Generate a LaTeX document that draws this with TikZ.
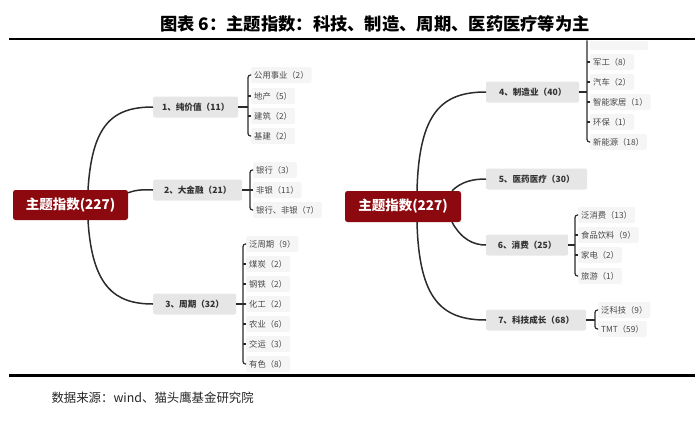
\documentclass[tikz,border=0pt]{standalone}
\usepackage{fontspec}
\setmainfont{Noto Sans CJK SC}
\usetikzlibrary{calc}
\definecolor{rootred}{HTML}{8C0A0F}
\definecolor{midgray}{HTML}{E6E6E6}
\definecolor{midtext}{HTML}{333333}
\definecolor{leafgray}{HTML}{F5F5F5}
\definecolor{leaftext}{HTML}{484848}
\definecolor{linecol}{HTML}{2B2B2B}
\begin{document}
\begin{tikzpicture}[x=1pt,y=-1pt,
  rootbox/.style={fill=rootred, text=white, font=\fontsize{13.5}{15}\selectfont\bfseries, rounded corners=2.5pt, minimum width=115pt, minimum height=30pt, inner sep=0pt},
  midbox/.style={fill=midgray, text=midtext, font=\fontsize{8.6}{10}\selectfont\bfseries, rounded corners=2pt, minimum height=21pt, inner xsep=7pt, inner ysep=0pt, anchor=west},
  leafbox/.style={fill=leafgray, text=leaftext, font=\fontsize{8.3}{9}\selectfont, rounded corners=2pt, minimum height=16pt, inner xsep=3pt, inner ysep=0pt, anchor=west},
  link/.style={draw=linecol, line width=1.5pt},
  brk/.style={draw=linecol, line width=1.2pt, rounded corners=2.5pt},
  rulestyle/.style={draw=black, line width=2.5pt}]
\useasboundingbox (0,0) rectangle (700,420);
% title and source
\node[font=\fontsize{17.3}{19}\selectfont\bfseries] (title) at (375,24) {图表 6：主题指数：科技、制造、周期、医药医疗等为主};
\node[anchor=west, font=\fontsize{12.4}{14}\selectfont, text=black!85] (src) at (48,398) {数据来源：wind、猫头鹰基金研究院};

% ---------- left tree ----------
\node[rootbox] (r1) at (70.5,205) {主题指数(227)};
\node[midbox, minimum width=85pt] (n1) at (153,107) {1、纯价值（11）};
\node[midbox, minimum width=89pt] (n2) at (153,190) {2、大金融（21）};
\node[midbox, minimum width=83pt] (n3) at (153,304) {3、周期（32）};

\node[leafbox] (n1a) at (251,75) {公用事业（2）};
\node[leafbox] (n1b) at (251,96) {地产（5）};
\node[leafbox] (n1c) at (251,116) {建筑（2）};
\node[leafbox] (n1d) at (251,136) {基建（2）};

\node[leafbox] (n2a) at (253,170) {银行（3）};
\node[leafbox] (n2b) at (253,190) {非银（11）};
\node[leafbox] (n2c) at (253,210) {银行、非银（7）};

\node[leafbox] (n3a) at (246,244) {泛周期（9）};
\node[leafbox] (n3b) at (246,264) {煤炭（2）};
\node[leafbox] (n3c) at (246,284) {钢铁（2）};
\node[leafbox] (n3d) at (246,304) {化工（2）};
\node[leafbox] (n3e) at (246,324) {农业（6）};
\node[leafbox] (n3f) at (246,344) {交运（3）};
\node[leafbox] (n3g) at (246,364) {有色（8）};

\draw[link] ($(r1.north)+(17.5,0)$) .. controls (92,125) and (112,107) .. (n1.west);
\draw[link] ($(r1.north east)+(0,3)$) .. controls (138,189) and (145,190) .. (n2.west);
\draw[link] ($(r1.south)+(17.5,0)$) .. controls (92,287) and (115,304) .. (n3.west);

% brackets left
\draw[brk] (n1a.west) -| (248,107) |- (n1d.west);
\draw[brk] (248,96) -- (n1b.west);
\draw[brk] (248,116) -- (n1c.west);
\draw[brk] (n1.east) -- (248,107);

\draw[brk] (n2a.west) -| (250,190) |- (n2c.west);
\draw[brk] (n2.east) -- (n2b.west);

\draw[brk] (n3a.west) -| (243,304) |- (n3g.west);
\draw[brk] (243,264) -- (n3b.west);
\draw[brk] (243,284) -- (n3c.west);
\draw[brk] (243,324) -- (n3e.west);
\draw[brk] (243,344) -- (n3f.west);
\draw[brk] (n3.east) -- (n3d.west);

% ---------- right tree ----------
\node[rootbox, minimum width=116pt, minimum height=31pt] (r2) at (403,206.5) {主题指数(227)};
\node[midbox, minimum width=93pt] (n4) at (486,92) {4、制造业（40）};
\node[midbox, minimum width=101pt] (n5) at (486,179) {5、医药医疗（30）};
\node[midbox, minimum width=82pt] (n6) at (486,245) {6、消费（25）};
\node[midbox, minimum width=100pt] (n7) at (486,320) {7、科技成长（68）};

\begin{scope}
\clip (560,41.5) rectangle (700,60);
\node[leafbox, minimum width=58pt] (n4a) at (590,42) {};
\end{scope}
\node[leafbox] (n4b) at (590,62) {军工（8）};
\node[leafbox] (n4c) at (590,82) {汽车（2）};
\node[leafbox] (n4d) at (590,102) {智能家居（1）};
\node[leafbox] (n4e) at (590,122) {环保（1）};
\node[leafbox] (n4f) at (590,142) {新能源（18）};

\node[leafbox] (n6a) at (578,215) {泛消费（13）};
\node[leafbox] (n6b) at (578,235) {食品饮料（9）};
\node[leafbox] (n6c) at (578,255) {家电（2）};
\node[leafbox] (n6d) at (578,276) {旅游（1）};

\node[leafbox] (n7a) at (598,310) {泛科技（9）};
\node[leafbox] (n7b) at (598,329) {TMT（59）};

\draw[link] ($(r2.north)+(14,0)$) .. controls (419,112) and (442,92) .. (n4.west);
\draw[link] ($(r2.north)+(49,0)$) .. controls (462,181) and (474,179) .. (n5.west);
\draw[link] ($(r2.south)+(49,0)$) .. controls (462,240) and (474,245) .. (n6.west);
\draw[link] ($(r2.south)+(14,0)$) .. controls (419,300) and (442,320) .. (n7.west);

% brackets right
\draw[brk] (587,40.5) -- (587,92) |- (n4f.west);
\draw[brk] (587,62) -- (n4b.west);
\draw[brk] (587,82) -- (n4c.west);
\draw[brk] (587,102) -- (n4d.west);
\draw[brk] (587,122) -- (n4e.west);
\draw[brk] (n4.east) -- (587,92);

\draw[brk] (n6a.west) -| (575,245) |- (n6d.west);
\draw[brk] (575,235) -- (n6b.west);
\draw[brk] (575,255) -- (n6c.west);
\draw[brk] (n6.east) -- (575,245);

\draw[brk] (n7a.west) -| (595,320) |- (n7b.west);
\draw[brk] (n7.east) -- (595,320);

% rules
\draw[rulestyle] (9,39) -- (695,39);
\draw[rulestyle] (9,375.5) -- (695,375.5);
\end{tikzpicture}
\end{document}
